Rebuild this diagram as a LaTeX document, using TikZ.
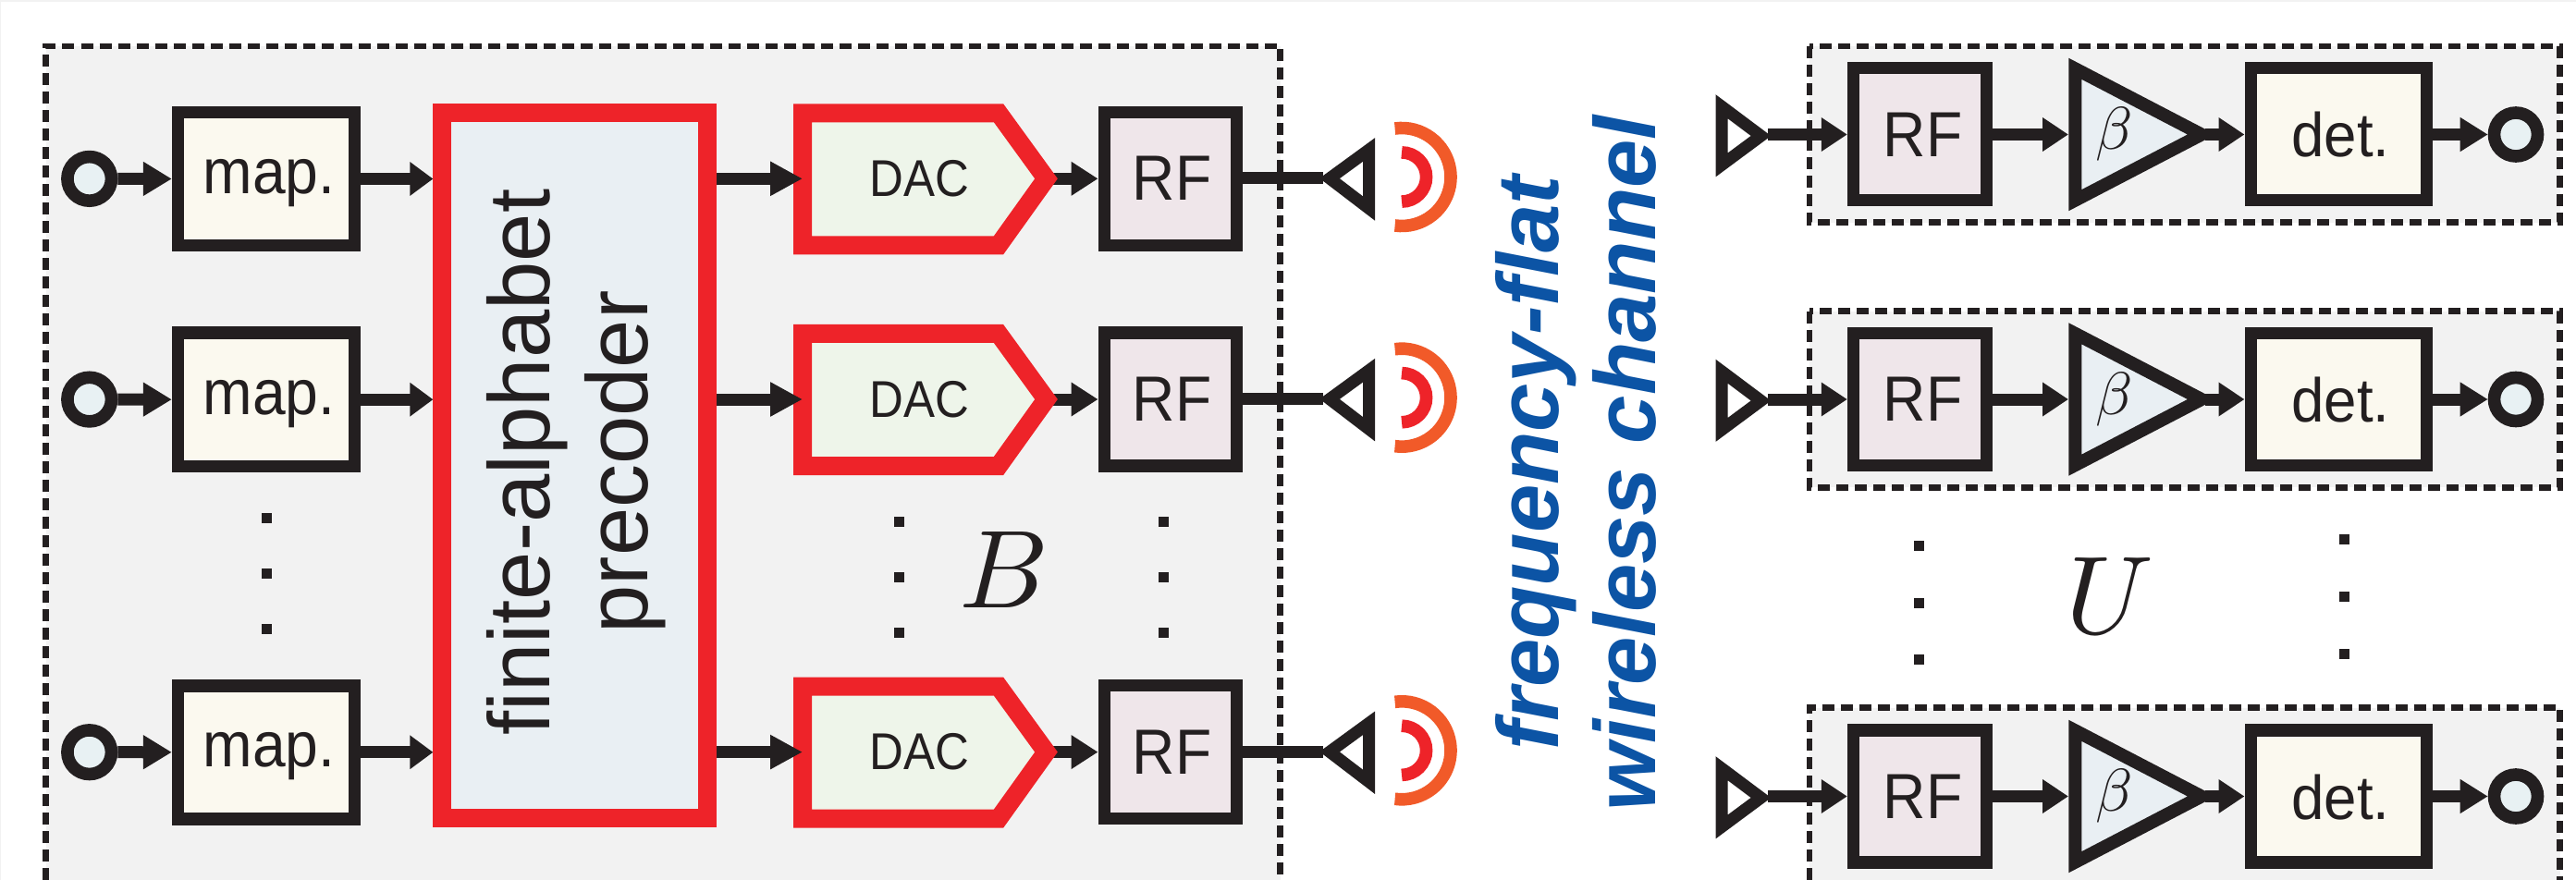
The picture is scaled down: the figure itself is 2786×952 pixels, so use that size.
\documentclass[tikz,border=0pt]{standalone}
\usepackage{fontspec}
\setmainfont{Liberation Sans}
\usetikzlibrary{arrows.meta,calc}
\definecolor{ink}{HTML}{231F20}
\definecolor{panel}{HTML}{F2F2F2}
\definecolor{cream}{HTML}{FBF9EF}
\definecolor{pinkish}{HTML}{EFE6EA}
\definecolor{greenish}{HTML}{EEF5EA}
\definecolor{bluish}{HTML}{E9EFF3}
\definecolor{portfill}{HTML}{E8F1F3}
\definecolor{hotred}{HTML}{EE2329}
\definecolor{hotorange}{HTML}{F15A29}
\definecolor{chanblue}{HTML}{0C54A5}
\tikzset{
  x=0.25pt,y=-0.25pt,
  dashbox/.style={draw=ink,line width=1.625pt,dash pattern=on 3.25pt off 1.75pt},
  blk/.style={draw=ink,line width=3.35pt,inner sep=0pt},
  mapbox/.style={blk,fill=cream,minimum width=47.75pt,minimum height=36pt},
  txrf/.style={blk,fill=pinkish,minimum width=35.75pt,minimum height=36pt},
  rxrf/.style={blk,fill=pinkish,minimum width=36pt,minimum height=35.75pt},
  detbox/.style={blk,fill=cream,minimum width=47.6pt,minimum height=35.75pt},
  precbox/.style={draw=hotred,line width=5pt,inner sep=0pt,fill=bluish,minimum width=71.65pt,minimum height=190.8pt},
  port/.style={circle,draw=ink,line width=3.4pt,fill=portfill,inner sep=0pt,minimum size=11.9pt},
  arr/.style={draw=ink,line width=3.25pt,-{Triangle[length=#1,width=8.75pt]}},
  wire/.style={draw=ink,line width=3.25pt},
  dotmark/.style={fill=ink,inner sep=0pt,minimum size=2.75pt},
  lab/.style={anchor=base,inner sep=0pt,text=ink,font=\fontsize{17.25pt}{20pt}\selectfont},
  daclab/.style={anchor=base,inner sep=0pt,text=ink,xscale=.91,font=\fontsize{14pt}{16pt}\selectfont},
  wave/.style={line width=3.4pt},
}
\begin{document}
\begin{tikzpicture}
\useasboundingbox (0,0) rectangle (2786,952);
\fill[panel] (0,0) rectangle (2786,952);
\fill[white] (1,2) rectangle (2786,952);
% transmitter panel
\fill[panel] (49.5,50) rectangle (1384.6,952);
\draw[dashbox] (49.5,952) -- (49.5,50) -- (1384.6,50) -- (1384.6,952);
% receiver panels
\foreach \y in {50,336.7}{
  \fill[panel] (1957,\y) rectangle (2768.5,\y+190.7);
  \draw[dashbox] (1957,\y) rectangle (2768.5,\y+190.7);
}
\fill[panel] (1957,765.7) rectangle (2768.5,952);
\draw[dashbox] (1957,952) -- (1957,765.7) -- (2768.5,765.7) -- (2768.5,952);
% precoder
\node[precbox] (prec) at (621.7,503.4) {};
\node[rotate=90,align=center,inner sep=0pt,text=ink,font=\fontsize{23.5pt}{26.5pt}\selectfont] (preclab) at (623,500) {finite-alphabet\\precoder};
% transmit chains
\foreach \r/\y in {1/193,2/431.7,3/813.3}{
  \node[port] (src\r) at (96.7,\y+.4) {};
  \node[mapbox] (map\r) at (288,\y+.5) {};
  \node[lab,xscale=.93] (maplab\r) at (291,\y+16.3) {map.};
  \node[txrf] (trf\r) at (1265.7,\y+.3) {};
  \node[lab,xscale=.93] (trflab\r) at (1267.5,\y+24) {RF};
  \coordinate (dacin\r) at (868,\y+.3);
  \coordinate (dacout\r) at (1131.5,\y+.3);
  \coordinate (tant\r) at (1430.5,\y);
  \draw[arr=7.25pt] (dacout\r) -- (trf\r.west |- dacout\r);
  \draw[wire] (trf\r.east |- tant\r) -- (tant\r);
  \draw[draw=hotred,line width=5pt,fill=greenish,miter limit=10] (868,\y-70.7) -- (1080,\y-70.7) -- (1131.5,\y+.3) -- (1080,\y+72.3) -- (868,\y+72.3) -- cycle;
  \node[daclab] (daclab\r) at (994.5,\y+19.5) {DAC};
  \draw[arr=7.75pt] (src\r.east) -- (map\r.west);
  \draw[arr=6.25pt] (map\r.east) -- (prec.west |- map\r.east);
  \draw[arr=8.75pt] (prec.east |- dacin\r) -- (dacin\r);
  \draw[draw=ink,line width=3.25pt,fill=white] (1480.5,\y-31) -- (1438,\y) -- (1480.5,\y+32.5) -- cycle;
  \coordinate (wc\r) at (1516,\y-1.5);
  \draw[wave,hotorange] (wc\r) ++(98:13.25pt) arc[start angle=98,end angle=-98,radius=13.25pt];
  \draw[wave,hotred] (wc\r) ++(90:6.65pt) arc[start angle=90,end angle=-90,radius=6.65pt];
}
% receive chains
\foreach \r/\y in {1/145.5,2/432,3/861.5}{
  \draw[draw=ink,line width=3.25pt,fill=white] (1862,\y-30.3) -- (1904.5,\y+1.5) -- (1862,\y+33) -- cycle;
  \coordinate (rant\r) at (1912,\y);
  \node[rxrf] (rrf\r) at (2076.5,\y-.2) {};
  \node[lab,xscale=.93] (rrflab\r) at (2079.5,\y+23.8) {RF};
  \draw[draw=ink,line width=3.5pt,fill=bluish] (2244.3,\y-71.2) -- (2381,\y) -- (2244.3,\y+71.2) -- cycle;
  \coordinate (ampin\r) at (2237,\y);
  \coordinate (ampout\r) at (2385,\y);
  \node[scale=1.63,inner sep=0pt,text=ink] (beta\r) at (2287,\y) {$\beta$};
  \node[detbox] (det\r) at (2529.4,\y-.2) {};
  \node[lab,xscale=.95,font=\fontsize{16.75pt}{20pt}\selectfont] (detlab\r) at (2531.5,\y+24.5) {det.};
  \node[port,minimum size=11.75pt] (snk\r) at (2721,\y) {};
  \draw[arr=7pt] (rant\r) -- (rrf\r.west |- rant\r);
  \draw[arr=7pt] (rrf\r.east |- ampin\r) -- (ampin\r);
  \draw[arr=7pt] (ampout\r) -- (det\r.west |- ampout\r);
  \draw[arr=7.5pt] (det\r.east |- snk\r.west) -- (snk\r.west);
}
% ellipsis dots
\foreach \n/\x/\y in {a/288.5/560.5,b/288.5/620.5,c/288.5/680.5,
  d/972.5/564.5,e/972.5/624.5,f/972.5/684.5,
  g/1258.5/564.5,h/1258.5/624.5,i/1258.5/684.5,
  j/2075.5/590.5,k/2075.5/652.5,l/2075.5/713.3,
  m/2535.2/583.3,n/2535.2/645.3,o/2535.2/707.2}{
  \node[dotmark] (dot\n) at (\x,\y) {};
}
\node[scale=3,inner sep=0pt,text=ink] (lblB) at (1086,616) {$B$};
\node[scale=3,inner sep=0pt,text=ink] (lblU) at (2282,644) {$U$};
\node[rotate=90,align=center,inner sep=0pt,text=chanblue,font=\bfseries\itshape\fontsize{23.5pt}{26.25pt}\selectfont] (chan) at (1704,501) {frequency-flat\\wireless channel};
\end{tikzpicture}
\end{document}
